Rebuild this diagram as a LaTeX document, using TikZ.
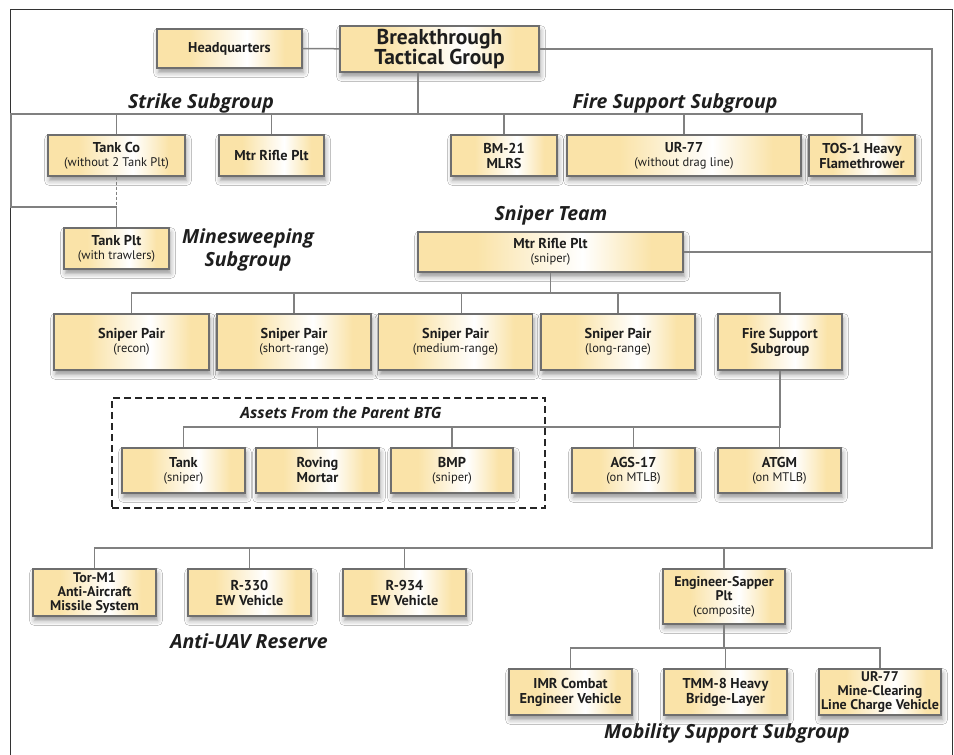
\documentclass[tikz,border=0pt]{standalone}
\usepackage{fontspec}
\setmainfont{PT Sans}
\newfontfamily\headfont{Open Sans}
\usetikzlibrary{shadows.blur}
\definecolor{tanc}{RGB}{250,227,168}
\definecolor{linec}{RGB}{128,128,128}
\definecolor{bordc}{RGB}{110,110,110}
\definecolor{txtc}{RGB}{30,30,30}
\pgfdeclarehorizontalshading{boxshade}{100bp}{color(0bp)=(tanc); color(36bp)=(tanc); color(56bp)=(white); color(69bp)=(tanc); color(100bp)=(tanc)}
\newcommand{\subtxt}[1]{\\[-1pt]{\mdseries\fontsize{12.5}{13.5}\selectfont #1}}
\tikzset{
  unit/.style={draw=bordc, line width=1.4pt, shading=boxshade, align=center,
    inner sep=1pt, text=txtc, font=\bfseries\fontsize{14.3}{15}\selectfont,
    blur shadow={shadow xshift=1.5pt, shadow yshift=-4.5pt, shadow blur radius=5pt, shadow opacity=42}},
  conn/.style={draw=linec, line width=1.5pt},
  heading/.style={font=\headfont\bfseries\itshape\fontsize{19.5}{23}\selectfont, align=center, text=txtc},
  assetbox/.style={draw=black!85, line width=1.5pt, dash pattern=on 7pt off 4pt},
}
\begin{document}
\begin{tikzpicture}[x=1pt,y=-1pt]
\useasboundingbox (0,0) rectangle (954,755);
\fill[white] (0,0) rectangle (954,755);
\draw[black!80, line width=1pt] (10,755.5) -- (10,9) -- (952,9) -- (952,755.5);

% top
\node[unit, minimum width=145, minimum height=39] (hq) at (229.5,48.5) {Headquarters};
\node[unit, minimum width=199, minimum height=46, font=\bfseries\fontsize{21.5}{19.5}\selectfont] (btg) at (439.5,49) {Breakthrough\\Tactical Group};

% strike / fire support
\node[unit, minimum width=137, minimum height=41] (tankco) at (116.5,155.5) {Tank Co\subtxt{(without 2 Tank Plt)}};
\node[unit, minimum width=105, minimum height=41] (mrp) at (271.5,155.5) {Mtr Rifle Plt};
\node[unit, minimum width=106, minimum height=41] (bm21) at (504,155.5) {BM-21\\MLRS};
\node[unit, minimum width=234, minimum height=41] (ur77) at (684,155.5) {UR-77\subtxt{(without drag line)}};
\node[unit, minimum width=106, minimum height=41] (tos1) at (862,155.5) {TOS-1 Heavy\\Flamethrower};
\node[unit, minimum width=105, minimum height=41] (tankplt) at (116.5,248.5) {Tank Plt\subtxt{(with trawlers)}};

% sniper team
\node[unit, minimum width=265, minimum height=40] (snp) at (550.5,252) {Mtr Rifle Plt\subtxt{(sniper)}};
\node[unit, minimum width=155, minimum height=56] (sp1) at (131.5,342) {Sniper Pair\subtxt{(recon)}};
\node[unit, minimum width=154, minimum height=56] (sp2) at (294,342) {Sniper Pair\subtxt{(short-range)}};
\node[unit, minimum width=154, minimum height=56] (sp3) at (455.5,342) {Sniper Pair\subtxt{(medium-range)}};
\node[unit, minimum width=154, minimum height=56] (sp4) at (618,342) {Sniper Pair\subtxt{(long-range)}};
\node[unit, minimum width=124, minimum height=56] (fss) at (780,342) {Fire Support\\Subgroup};

% assets
\node[assetbox, minimum width=433, minimum height=110, inner sep=0pt] (assetsbox) at (328.5,453) {};
\node[unit, minimum width=123, minimum height=45] (tank) at (183.5,470.5) {Tank\subtxt{(sniper)}};
\node[unit, minimum width=123, minimum height=45] (mortar) at (317.5,470.5) {Roving\\Mortar};
\node[unit, minimum width=122, minimum height=45] (bmp) at (452,470.5) {BMP\subtxt{(sniper)}};
\node[unit, minimum width=123, minimum height=45] (ags) at (633.5,470.5) {AGS-17\subtxt{(on MTLB)}};
\node[unit, minimum width=123, minimum height=45] (atgm) at (779.5,470.5) {ATGM\subtxt{(on MTLB)}};

% anti-UAV
\node[unit, minimum width=123, minimum height=47, font=\bfseries\fontsize{14}{14}\selectfont] (tor) at (94.5,592.5) {Tor-M1\\Anti-Aircraft\\Missile System};
\node[unit, minimum width=123, minimum height=47] (r330) at (249.5,592.5) {R-330\\EW Vehicle};
\node[unit, minimum width=123, minimum height=47] (r934) at (404.5,592.5) {R-934\\EW Vehicle};

% mobility support
\node[unit, minimum width=122, minimum height=55, font=\bfseries\fontsize{14}{14.5}\selectfont] (eng) at (724,596.5) {Engineer-Sapper\\Plt\subtxt{(composite)}};
\node[unit, minimum width=123, minimum height=46] (imr) at (570.5,692) {IMR Combat\\Engineer Vehicle};
\node[unit, minimum width=123, minimum height=46] (tmm) at (725.5,692) {TMM-8 Heavy\\Bridge-Layer};
\node[unit, minimum width=122, minimum height=46, font=\bfseries\fontsize{14}{14}\selectfont, inner sep=0pt] (ur77b) at (880,692) {UR-77\\Mine-Clearing\\Line Charge Vehicle};

% headings
\node[heading] (hstrike) at (201,103) {Strike Subgroup};
\node[heading] (hfire) at (675,103) {Fire Support Subgroup};
\node[heading] (hmine) at (248,249.5) {Minesweeping\\Subgroup};
\node[heading] (hsniper) at (551,215) {Sniper Team};
\node[heading, font=\headfont\bfseries\itshape\fontsize{15.5}{17}\selectfont] (hassets) at (341,413) {Assets From the Parent BTG};
\node[heading] (huav) at (249,641) {Anti-UAV Reserve};
\node[heading] (hmob) at (727,733) {Mobility Support Subgroup};

% bus coordinates
\coordinate (sbL) at (11,114);
\coordinate (msb) at (11,207);
\coordinate (rT) at (932,49);
\coordinate (rB) at (932,548);
\coordinate (snb) at (0,293);
\coordinate (fb) at (0,427);
\coordinate (mb) at (0,648);

% connectors
\draw[conn] (hq) -- (btg);
\draw[conn] ([xshift=-21.5pt]btg.south) -- ([xshift=-21.5pt]btg.south |- sbL);
\draw[conn] (tankplt.north) -- (tankplt.north |- msb) -- (msb) -- (sbL) -- (tos1.north |- sbL) -- (tos1.north);
\draw[conn, dash pattern=on 3pt off 2pt] (tankco.south) -- (tankco.south |- msb);
\foreach \n in {tankco,mrp,bm21,ur77} \draw[conn] (\n.north) -- (\n.north |- sbL);

\draw[conn] (btg.east) -- (rT) -- (rB) -- (tor.north |- rB) -- (tor.north);
\draw[conn] (snp.east) -- (snp.east -| rT);
\foreach \n in {r330,r934,eng} \draw[conn] (\n.north) -- (\n.north |- rB);

\draw[conn] (snp.south) -- (snp.south |- snb);
\draw[conn] (sp1.north) -- (sp1.north |- snb) -- (fss.north |- snb) -- (fss.north);
\foreach \n in {sp2,sp4} \draw[conn] (\n.north) -- (\n.north |- snb);
\draw[conn] ([xshift=6pt]sp3.north) -- ([xshift=6pt]sp3.north |- snb);

\draw[conn] (fss.south) -- (fss.south |- fb) -- (tank.north |- fb) -- (tank.north);
\foreach \n in {mortar,bmp,ags,atgm} \draw[conn] (\n.north) -- (\n.north |- fb);

\draw[conn] (eng.south) -- (eng.south |- mb);
\draw[conn] (imr.north) -- (imr.north |- mb) -- (ur77b.north |- mb) -- (ur77b.north);
\draw[conn] (tmm.north) -- (tmm.north |- mb);
\end{tikzpicture}
\end{document}
